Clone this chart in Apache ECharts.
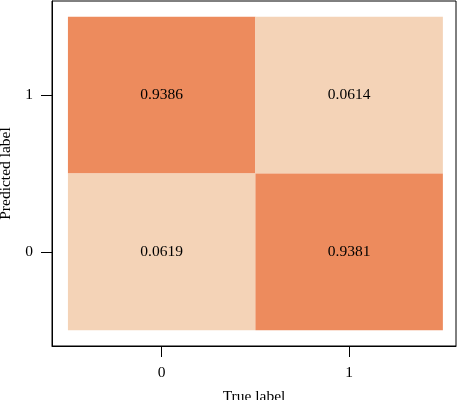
<!DOCTYPE html>
<html>
<head>
<meta charset="utf-8">
<script src="https://cdn.jsdelivr.net/npm/echarts@6/dist/echarts.min.js"></script>
<style>html,body{margin:0;padding:0;background:#fff;}#c{width:459px;height:400px;}</style>
</head>
<body>
<div id="c"></div>
<script>
const xCategories = ['0', '1'];
const yCategories = ['0', '1'];
// [trueIndex, predictedIndex, value]
const cellValues = [
  [0, 1, 0.9386],
  [1, 1, 0.0614],
  [0, 0, 0.0619],
  [1, 0, 0.9381]
];
const xName = 'True label';
const yName = 'Predicted label';

const FONT = '"Liberation Serif", "DejaVu Serif", serif';
const chart = echarts.init(document.getElementById('c'), null, {renderer: 'canvas'});
chart.setOption({
  animation: false,
  backgroundColor: '#fff',
  grid: {left: 52, top: 1, right: 3, bottom: 54, containLabel: false, outerBoundsMode: 'none',
    show: true, borderColor: '#000', borderWidth: 1, backgroundColor: 'transparent'},
  visualMap: {show: false, dimension: 2, min: 0.0614, max: 0.9386, inRange: {color: ['#F4D3B7', '#ED8B5D']}},
  xAxis: {
    type: 'value', min: -0.585, max: 1.57,
    name: xName, nameLocation: 'middle', nameGap: 43,
    nameTextStyle: {fontFamily: FONT, fontSize: 15.5, color: '#000'},
    axisLine: {show: true, onZero: false, lineStyle: {color: '#000', width: 1}},
    axisTick: {show: true, length: 11, lineStyle: {color: '#000'}, customValues: [0, 1]},
    axisLabel: {fontFamily: FONT, fontSize: 15.5, color: '#000', margin: 19, customValues: [0, 1],
      formatter: v => xCategories[Math.round(v)]},
    splitLine: {show: false}
  },
  yAxis: {
    type: 'value', min: -0.6, max: 1.6,
    name: yName, nameLocation: 'middle', nameGap: 33,
    nameTextStyle: {fontFamily: FONT, fontSize: 15.5, color: '#000'},
    axisLine: {show: true, onZero: false, lineStyle: {color: '#000', width: 1}},
    axisTick: {show: true, length: 11, lineStyle: {color: '#000'}, customValues: [0, 1]},
    axisLabel: {fontFamily: FONT, fontSize: 15.5, color: '#000', margin: 19, customValues: [0, 1],
      formatter: v => yCategories[Math.round(v)]},
    splitLine: {show: false}
  },
  series: [{
    type: 'custom',
    data: cellValues,
    encode: {x: 0, y: 1},
    renderItem: function (params, api) {
      const x = api.value(0), y = api.value(1), v = api.value(2);
      const p0 = api.coord([x - 0.5, y + 0.5]);
      const p1 = api.coord([x + 0.5, y - 0.5]);
      const c = api.coord([x, y]);
      return {
        type: 'group',
        children: [
          {type: 'rect', shape: {x: p0[0], y: p0[1], width: p1[0] - p0[0], height: p1[1] - p0[1]},
            style: {fill: api.visual('color')}},
          {type: 'text', style: {x: c[0], y: c[1], text: v.toFixed(4), fill: '#000',
            font: '15.5px ' + FONT, align: 'center', verticalAlign: 'middle'}}
        ]
      };
    }
  }]
});
</script>
</body>
</html>
